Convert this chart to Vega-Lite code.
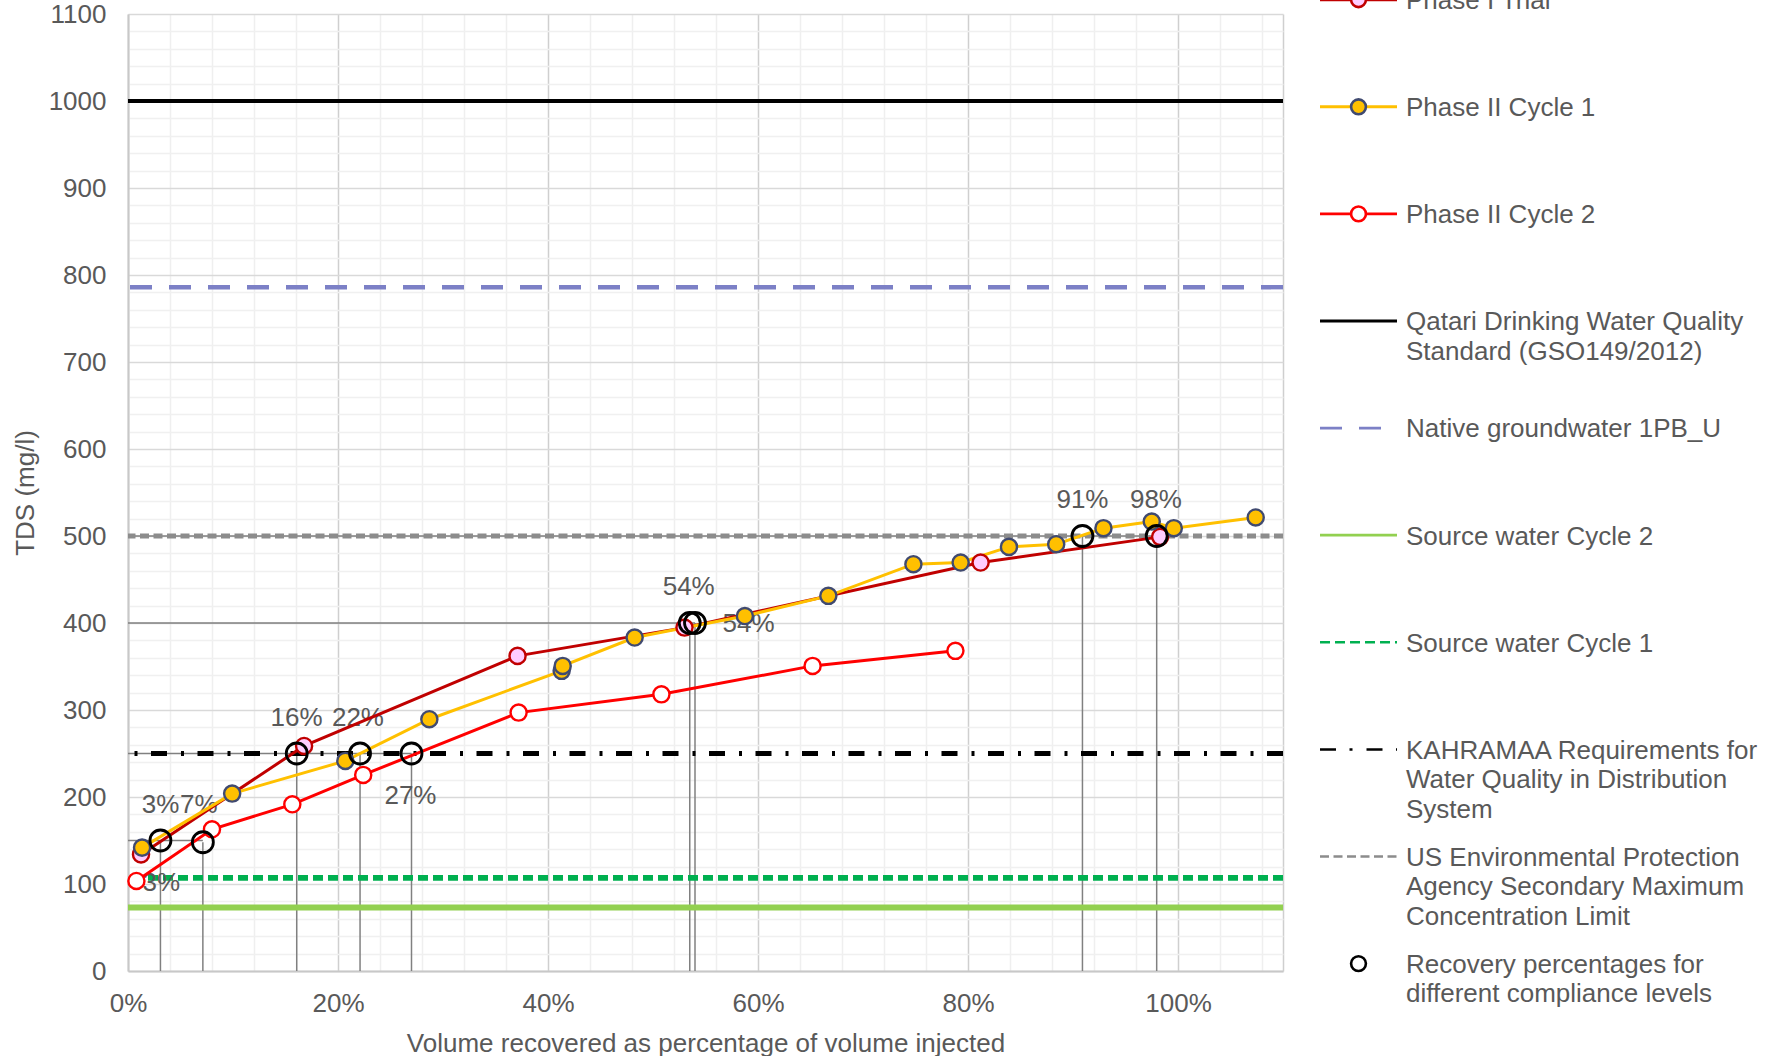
{
  "$schema": "https://vega.github.io/schema/vega-lite/v6.json",
  "background": "white",
  "padding": {"left": 12, "top": -13, "right": 0, "bottom": 0},
  "config": {
    "font": "Liberation Sans",
    "view": {"stroke": null},
    "axis": {"labelOverlap": false}
  },
  "datasets": {
    "series": [
      {"series": "Phase I Trial", "x": 1.24, "y": 134},
      {"series": "Phase I Trial", "x": 16.77, "y": 258.7},
      {"series": "Phase I Trial", "x": 37.1, "y": 362.2},
      {"series": "Phase I Trial", "x": 53.0, "y": 394.7},
      {"series": "Phase I Trial", "x": 81.2, "y": 469.5},
      {"series": "Phase I Trial", "x": 98.3, "y": 499},
      {"series": "Phase II Cycle 1", "x": 1.34, "y": 141.8},
      {"series": "Phase II Cycle 1", "x": 9.92, "y": 203.9},
      {"series": "Phase II Cycle 1", "x": 20.7, "y": 241.5},
      {"series": "Phase II Cycle 1", "x": 28.7, "y": 289.4},
      {"series": "Phase II Cycle 1", "x": 41.3, "y": 345},
      {"series": "Phase II Cycle 1", "x": 41.4, "y": 350.7},
      {"series": "Phase II Cycle 1", "x": 48.25, "y": 383.3},
      {"series": "Phase II Cycle 1", "x": 58.75, "y": 408},
      {"series": "Phase II Cycle 1", "x": 66.7, "y": 431.2},
      {"series": "Phase II Cycle 1", "x": 74.8, "y": 467.6},
      {"series": "Phase II Cycle 1", "x": 79.3, "y": 469.5},
      {"series": "Phase II Cycle 1", "x": 83.9, "y": 487.5},
      {"series": "Phase II Cycle 1", "x": 88.4, "y": 490.6},
      {"series": "Phase II Cycle 1", "x": 92.9, "y": 509},
      {"series": "Phase II Cycle 1", "x": 97.5, "y": 516.6},
      {"series": "Phase II Cycle 1", "x": 99.6, "y": 509},
      {"series": "Phase II Cycle 1", "x": 107.4, "y": 521.3},
      {"series": "Phase II Cycle 2", "x": 0.8, "y": 103.5},
      {"series": "Phase II Cycle 2", "x": 8.0, "y": 162.9},
      {"series": "Phase II Cycle 2", "x": 15.65, "y": 191.6},
      {"series": "Phase II Cycle 2", "x": 22.4, "y": 225.4},
      {"series": "Phase II Cycle 2", "x": 37.2, "y": 297},
      {"series": "Phase II Cycle 2", "x": 50.8, "y": 318},
      {"series": "Phase II Cycle 2", "x": 65.2, "y": 350.7},
      {"series": "Phase II Cycle 2", "x": 78.8, "y": 368}
    ],
    "refs": [
      {"name": "Qatari", "y": 1000},
      {"name": "Native", "y": 786},
      {"name": "EPA", "y": 500},
      {"name": "KAHRAMAA", "y": 250},
      {"name": "SW1", "y": 107},
      {"name": "SW2", "y": 73}
    ],
    "recovery": [
      {"x": 3.09, "y": 150},
      {"x": 7.13, "y": 148},
      {"x": 16.07, "y": 250},
      {"x": 22.1, "y": 250},
      {"x": 27.0, "y": 250},
      {"x": 53.5, "y": 400},
      {"x": 54.0, "y": 400},
      {"x": 90.9, "y": 500},
      {"x": 97.97, "y": 500}
    ],
    "hdrop": [
      {"x": 7.13, "y": 150},
      {"x": 27.0, "y": 250},
      {"x": 54.0, "y": 400},
      {"x": 97.97, "y": 500}
    ],
    "labels": [
      {"label": "3%", "x": 3.1, "y": 191},
      {"label": "7%", "x": 6.75, "y": 191},
      {"label": "3%", "x": 3.17, "y": 101.5},
      {"label": "16%", "x": 16.05, "y": 291.3},
      {"label": "22%", "x": 21.9, "y": 291.3},
      {"label": "27%", "x": 26.9, "y": 201},
      {"label": "54%", "x": 53.4, "y": 441.5},
      {"label": "54%", "x": 59.1, "y": 398.6},
      {"label": "91%", "x": 90.9, "y": 541.2},
      {"label": "98%", "x": 97.9, "y": 541.2}
    ],
    "legend": [
      {"entry": "Phase I Trial", "order": 0, "label": "Phase I Trial"},
      {"entry": "Phase II Cycle 1", "order": 1, "label": "Phase II Cycle 1"},
      {"entry": "Phase II Cycle 2", "order": 2, "label": "Phase II Cycle 2"},
      {"entry": "Qatari", "order": 3, "label": "Qatari Drinking Water Quality\nStandard (GSO149/2012)"},
      {"entry": "Native", "order": 4, "label": "Native groundwater 1PB_U"},
      {"entry": "SW2", "order": 5, "label": "Source water Cycle 2"},
      {"entry": "SW1", "order": 6, "label": "Source water Cycle 1"},
      {"entry": "KAHRAMAA", "order": 7, "label": "KAHRAMAA Requirements for\nWater Quality in Distribution\nSystem"},
      {"entry": "EPA", "order": 8, "label": "US Environmental Protection\nAgency Secondary Maximum\nConcentration Limit"},
      {"entry": "Recovery", "order": 9, "label": "Recovery percentages for\ndifferent compliance levels"}
    ]
  },
  "spacing": 32,
  "resolve": {
    "scale": {"x": "independent", "y": "independent", "color": "independent", "fill": "independent", "stroke": "independent", "strokeDash": "independent", "strokeWidth": "independent", "size": "independent"}
  },
  "hconcat": [
    {
      "width": 1155,
      "height": 957,
      "resolve": {
        "scale": {"color": "independent", "fill": "independent", "stroke": "independent", "strokeDash": "independent", "strokeWidth": "independent"},
        "axis": {"y": "independent"}
      },
      "layer": [
        {
          "data": {"name": "recovery"},
          "mark": {"type": "rule", "color": "#808080", "strokeWidth": 1.5},
          "encoding": {
            "x": {
              "field": "x", "type": "quantitative",
              "scale": {"domain": [0, 110], "nice": false, "zero": false},
              "axis": {
                "title": "Volume recovered as percentage of volume injected",
                "values": [0,4,8,12,16,20,24,28,32,36,40,44,48,52,56,60,64,68,72,76,80,84,88,92,96,100,104,108,110],
                "labelExpr": "datum.value % 20 === 0 && datum.value <= 100 ? datum.value + '%' : ''",
                "grid": true,
                "gridColor": {"condition": {"test": "datum.value % 20 === 0 || datum.value === 110", "value": "#CFCFCF"}, "value": "#EFEFEF"},
                "gridWidth": 1.5,
                "ticks": false,
                "tickSize": 0,
                "domainColor": "#C8C8C8",
                "domainWidth": 2,
                "labelPadding": 19,
                "titlePadding": 14,
                "labelFontSize": 26,
                "titleFontSize": 26,
                "labelColor": "#595959",
                "titleColor": "#595959",
                "titleFontWeight": "normal",
                "labelFlush": false,
                "labelOverlap": false
              }
            },
            "y": {
              "field": "y", "type": "quantitative",
              "scale": {"domain": [0, 1100], "nice": false, "zero": true},
              "axis": {
                "orient": "left",
                "title": "TDS (mg/l)",
                "values": [0,100,200,300,400,500,600,700,800,900,1000,1100],
                "format": "d",
                "grid": true,
                "gridColor": "#D9D9D9",
                "gridWidth": 1.5,
                "ticks": false,
                "tickSize": 0,
                "domainColor": "#C8C8C8",
                "domainWidth": 2,
                "labelPadding": 22,
                "titlePadding": 10,
                "labelFontSize": 26,
                "titleFontSize": 26,
                "labelColor": "#595959",
                "titleColor": "#595959",
                "titleFontWeight": "normal",
                "labelOverlap": false
              }
            },
            "y2": {"datum": 0}
          }
        },
        {
          "data": {"name": "hdrop"},
          "mark": {"type": "rule", "color": "#808080", "strokeWidth": 1.5},
          "encoding": {
            "x": {"field": "x", "type": "quantitative"},
            "x2": {"datum": 0},
            "y": {
              "field": "y", "type": "quantitative",
              "axis": {
                "orient": "right",
                "title": null,
                "values": [20,40,60,80,120,140,160,180,220,240,260,280,320,340,360,380,420,440,460,480,520,540,560,580,620,640,660,680,720,740,760,780,820,840,860,880,920,940,960,980,1020,1040,1060,1080],
                "labels": false,
                "ticks": false,
                "domain": false,
                "grid": true,
                "gridColor": "#F0F0F0",
                "gridWidth": 1.5
              }
            }
          }
        },
        {
          "data": {"name": "refs"},
          "mark": {"type": "rule"},
          "encoding": {
            "y": {"field": "y", "type": "quantitative", "axis": null},
            "color": {
              "field": "name", "type": "nominal", "legend": null,
              "scale": {"domain": ["Qatari", "Native", "EPA", "KAHRAMAA", "SW1", "SW2"], "range": ["#000000", "#7C80C6", "#8C8C8C", "#000000", "#00B050", "#92D050"]}
            },
            "strokeDash": {
              "field": "name", "type": "nominal", "legend": null,
              "scale": {"domain": ["Qatari", "Native", "EPA", "KAHRAMAA", "SW1", "SW2"], "range": [[1, 0], [22, 17], [9, 4.5], [16, 13.5, 3, 14], [10, 5], [1, 0]]}
            },
            "strokeWidth": {
              "field": "name", "type": "ordinal", "legend": null,
              "scale": {"domain": ["Qatari", "Native", "EPA", "KAHRAMAA", "SW1", "SW2"], "range": [4, 6, 3.5, 4, 4, 4]}
            }
          }
        },
        {
          "data": {"name": "labels"},
          "mark": {"type": "text", "fontSize": 26, "color": "#595959", "align": "center", "baseline": "middle"},
          "encoding": {
            "x": {"field": "x", "type": "quantitative"},
            "y": {"field": "y", "type": "quantitative", "axis": null},
            "text": {"field": "label"}
          }
        },
        {
          "data": {"name": "series"},
          "mark": {"type": "line", "strokeWidth": 3},
          "encoding": {
            "x": {"field": "x", "type": "quantitative"},
            "y": {"field": "y", "type": "quantitative", "axis": null},
            "color": {
              "field": "series", "type": "nominal", "legend": null,
              "scale": {"domain": ["Phase I Trial", "Phase II Cycle 1", "Phase II Cycle 2"], "range": ["#C00000", "#FFC000", "#FF0000"]}
            }
          }
        },
        {
          "data": {"name": "series"},
          "mark": {"type": "point", "filled": true, "size": 260, "strokeWidth": 2.4, "opacity": 1},
          "encoding": {
            "x": {"field": "x", "type": "quantitative"},
            "y": {"field": "y", "type": "quantitative", "axis": null},
            "fill": {
              "field": "series", "type": "nominal", "legend": null,
              "scale": {"domain": ["Phase I Trial", "Phase II Cycle 1", "Phase II Cycle 2"], "range": ["#FFCCFF", "#FFC000", "#FFFFFF"]}
            },
            "stroke": {
              "field": "series", "type": "nominal", "legend": null,
              "scale": {"domain": ["Phase I Trial", "Phase II Cycle 1", "Phase II Cycle 2"], "range": ["#C00000", "#404A70", "#FF0000"]}
            }
          }
        },
        {
          "data": {"name": "recovery"},
          "mark": {"type": "point", "filled": false, "stroke": "#000000", "strokeWidth": 2.8, "size": 440, "opacity": 1},
          "encoding": {
            "x": {"field": "x", "type": "quantitative"},
            "y": {"field": "y", "type": "quantitative", "axis": null}
          }
        }
      ]
    },
    {
      "width": 77,
      "height": 957,
      "data": {"name": "legend"},
      "resolve": {"scale": {"color": "independent", "fill": "independent", "stroke": "independent"}},
      "layer": [
        {
          "transform": [{"filter": "datum.entry !== 'Recovery'"}],
          "mark": {"type": "rule"},
          "encoding": {
            "x": {"datum": 0, "scale": {"domain": [0, 1], "nice": false, "zero": false}, "axis": null},
            "x2": {"datum": 1},
            "y": {"field": "order", "type": "quantitative", "scale": {"domain": [0.1335, 9.069], "reverse": true, "nice": false, "zero": false}, "axis": null},
            "color": {
              "field": "entry", "type": "nominal", "legend": null,
              "scale": {"domain": ["Phase I Trial", "Phase II Cycle 1", "Phase II Cycle 2", "Qatari", "Native", "SW2", "SW1", "KAHRAMAA", "EPA"], "range": ["#C00000", "#FFC000", "#FF0000", "#000000", "#7C80C6", "#92D050", "#00B050", "#000000", "#8C8C8C"]}
            },
            "strokeDash": {
              "field": "entry", "type": "nominal", "legend": null,
              "scale": {"domain": ["Phase I Trial", "Phase II Cycle 1", "Phase II Cycle 2", "Qatari", "Native", "SW2", "SW1", "KAHRAMAA", "EPA"], "range": [[1, 0], [1, 0], [1, 0], [1, 0], [22, 17], [1, 0], [10, 5], [16, 13.5, 3, 14], [9, 4.5]]}
            },
            "strokeWidth": {
              "field": "entry", "type": "ordinal", "legend": null,
              "scale": {"domain": ["Phase I Trial", "Phase II Cycle 1", "Phase II Cycle 2", "Qatari", "Native", "SW2", "SW1", "KAHRAMAA", "EPA"], "range": [3, 2.5, 3, 4, 6, 4, 4, 4, 3.5]}
            }
          }
        },
        {
          "transform": [{"filter": "indexof(['Phase I Trial', 'Phase II Cycle 1', 'Phase II Cycle 2', 'Recovery'], datum.entry) >= 0"}],
          "mark": {"type": "point", "filled": true, "size": 220, "strokeWidth": 2.6, "opacity": 1},
          "encoding": {
            "x": {"datum": 0.5},
            "y": {"field": "order", "type": "quantitative"},
            "fill": {
              "field": "entry", "type": "nominal", "legend": null,
              "scale": {"domain": ["Phase I Trial", "Phase II Cycle 1", "Phase II Cycle 2", "Recovery"], "range": ["#FFCCFF", "#FFC000", "#FFFFFF", "#FFFFFF"]}
            },
            "stroke": {
              "field": "entry", "type": "nominal", "legend": null,
              "scale": {"domain": ["Phase I Trial", "Phase II Cycle 1", "Phase II Cycle 2", "Recovery"], "range": ["#C00000", "#404A70", "#FF0000", "#000000"]}
            }
          }
        },
        {
          "mark": {"type": "text", "align": "left", "baseline": "alphabetic", "dx": 9, "dy": 9.3, "fontSize": 26, "lineBreak": "\n", "lineHeight": 29.5, "color": "#595959"},
          "encoding": {
            "x": {"datum": 1},
            "y": {"field": "order", "type": "quantitative"},
            "text": {"field": "label"}
          }
        }
      ]
    }
  ]
}
